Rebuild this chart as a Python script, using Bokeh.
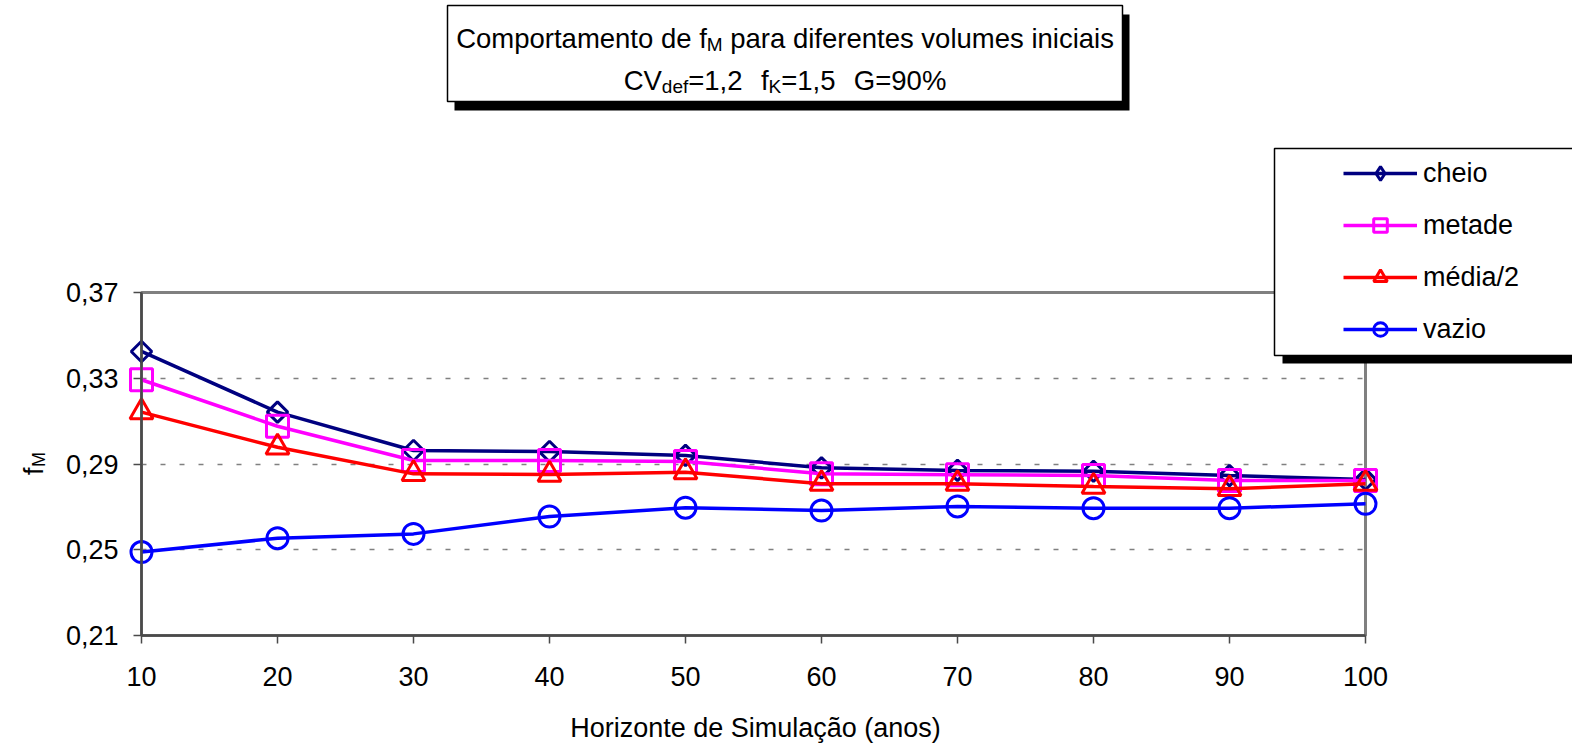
import numpy as np
from bokeh.plotting import figure
from bokeh.models import (Range1d, FixedTicker, CustomJSTickFormatter, Label,
                          BoxAnnotation, Legend, LegendItem)
from bokeh.embed import file_html
from bokeh.resources import INLINE

# ---------------- data ----------------
years = [10, 20, 30, 40, 50, 60, 70, 80, 90, 100]
cheio = [0.3425, 0.3142, 0.2963, 0.2958, 0.2940, 0.2882, 0.2870, 0.2866, 0.2846, 0.2828]
metade = [0.3293, 0.3076, 0.2916, 0.2916, 0.2912, 0.2854, 0.2850, 0.2846, 0.2823, 0.2823]
media2 = [0.3142, 0.2978, 0.2854, 0.2851, 0.2862, 0.2808, 0.2808, 0.2795, 0.2784, 0.2808]
vazio = [0.2489, 0.2554, 0.2574, 0.2655, 0.2696, 0.2683, 0.2702, 0.2694, 0.2694, 0.2714]
series_labels = ["cheio", "metade", "média/2", "vazio"]
y_ticks = [0.21, 0.25, 0.29, 0.33, 0.37]
grid_ticks = [0.25, 0.29, 0.33]
x_min, x_max = 10, 100
y_min, y_max = 0.21, 0.37
x_axis_label = "Horizonte de Simulação (anos)"
title_line1 = [("Comportamento de f", False, 0), ("M", True, 0),
               ("para diferentes volumes iniciais", False, 1)]
title_line2 = [("CV", False, 0), ("def", True, 0), ("=1,2", False, 0),
               ("f", False, 2.4), ("K", True, 0), ("=1,5", False, 0),
               ("G=90%", False, 2.4)]

# ---------------- layout constants (canvas px, canvas = page) ----------------
FONT = "Liberation Sans"
W, H = 1572, 743
PX0, PX1, PY0, PY1 = 141, 1365, 292, 635      # visible plot box on the canvas

sx_per = (PX1 - PX0) / (x_max - x_min)
sy_per = (PY1 - PY0) / (y_max - y_min)
# the bokeh frame covers the whole canvas; the axes sit at fixed locations
x_range = Range1d(x_min - PX0 / sx_per, x_max + (W - PX1) / sx_per)
y_range = Range1d(y_min - (H - PY1) / sy_per, y_max + PY0 / sy_per)

p = figure(width=W, height=H, output_backend="svg", toolbar_location=None,
           title=None, x_range=x_range, y_range=y_range,
           min_border=0, min_border_left=0, min_border_right=0,
           min_border_top=0, min_border_bottom=0)
p.outline_line_color = None
p.background_fill_color = "white"
p.border_fill_color = "white"

AXC = "#4a4a4a"
for ax in (p.xaxis[0], p.yaxis[0]):
    ax.axis_line_color = AXC
    ax.axis_line_width = 2.5
    ax.major_tick_line_color = AXC
    ax.major_tick_line_width = 1.5
    ax.major_tick_out = 8
    ax.major_tick_in = 0
    ax.minor_tick_line_color = None
    ax.major_label_text_font = FONT
    ax.major_label_text_font_size = "27px"
    ax.major_label_text_color = "black"

p.xaxis.ticker = FixedTicker(ticks=years)
p.xaxis.bounds = (x_min, x_max)
p.xaxis.fixed_location = y_min
p.xaxis.major_label_standoff = 23

p.yaxis.ticker = FixedTicker(ticks=y_ticks)
p.yaxis.bounds = (y_min, y_max)
p.yaxis.fixed_location = x_min
p.yaxis.major_label_standoff = 15
p.yaxis.formatter = CustomJSTickFormatter(code="return tick.toFixed(2).replace('.', ',');")

p.xgrid.visible = False
GRID_KW = dict(line_color="#808080", line_width=1.5, line_dash="5 14")
grid = p.ygrid[0]
if "cross_bounds" in grid.properties():
    grid.ticker = FixedTicker(ticks=grid_ticks)
    grid.cross_bounds = (x_min, x_max)
    grid.grid_line_color = GRID_KW["line_color"]
    grid.grid_line_width = GRID_KW["line_width"]
    grid.grid_line_dash = GRID_KW["line_dash"]
else:
    grid.visible = False
    for gt in grid_ticks:
        p.add_layout(BoxAnnotation(left=x_min, right=x_max, top=gt, bottom=gt,
                                   fill_color=None, line_alpha=1, level="underlay",
                                   **GRID_KW))

# plot box border (gray)
p.add_layout(BoxAnnotation(left=x_min, right=x_max, top=y_max, bottom=y_min,
                           fill_color=None, line_color="#808080", line_alpha=1,
                           line_width=3, line_dash="solid", level="underlay"))

# ---------------- series ----------------
specs = [
    (cheio, "#000080", "square", np.pi / 4, 14.5),
    (metade, "#FF00FF", "square", 0, 22),
    (media2, "#FF0000", "triangle", 0, 23),
    (vazio, "#0000FF", "circle", 0, 21),
]
items = []
for (vals, col, mk, ang, sz), name in zip(specs, series_labels):
    rl = p.line(years, vals, line_color=col, line_width=3.5)
    rm = p.scatter(years, vals, marker=mk, angle=ang, size=sz, line_color=col,
                   line_width=3, fill_alpha=0)
    rends = [rl, rm]
    if ang != 0:
        # legend key: an upright diamond (the legend ignores marker angles)
        rk = p.scatter(years, vals, marker="diamond", size=sz, line_color=col,
                       line_width=3, fill_alpha=0, visible=False)
        rends = [rl, rk]
    items.append(LegendItem(label=name, renderers=rends))


def fx(cx):
    return cx


def fy(cy):
    return H - cy


AW = {' ': 278, '%': 889, ',': 278, '0': 556, '1': 556, '2': 556, '5': 556, '9': 556,
      '=': 584, 'C': 722, 'G': 778, 'K': 667, 'M': 833, 'V': 667, 'a': 556, 'c': 500,
      'd': 556, 'e': 556, 'f': 278, 'i': 222, 'l': 222, 'm': 833, 'n': 556, 'o': 556,
      'p': 556, 'r': 333, 's': 500, 't': 278, 'u': 556, 'v': 500}


def tw(s, size):
    return sum(AW.get(c, 556) for c in s) / 1000.0 * size


def label(x, y, text, size, **kw):
    p.add_layout(Label(x=x, y=y, x_units="screen", y_units="screen", text=text,
                       text_font=FONT, text_font_size=f"{size}px", text_color="black",
                       text_align=kw.get("align", "left"),
                       text_baseline=kw.get("baseline", "alphabetic"),
                       angle=kw.get("angle", 0)))


def place_line(pieces, cx, base_cy, F, S, drop):
    total = 0
    for t, sub, gap in pieces:
        total += gap * tw(" ", F) + tw(t, S if sub else F)
    x = cx - total / 2
    for t, sub, gap in pieces:
        x += gap * tw(" ", F)
        size = S if sub else F
        label(fx(x), fy(base_cy + (drop if sub else 0)), t, size)
        x += tw(t, size)


def box(l, r, t, b, fill, line):
    p.add_layout(BoxAnnotation(left=fx(l), right=fx(r), top=fy(t), bottom=fy(b),
                               left_units="screen", right_units="screen",
                               top_units="screen", bottom_units="screen",
                               fill_color=fill, fill_alpha=1,
                               line_color=line, line_alpha=1, line_width=1.5,
                               line_dash="solid"))


# ---------------- title box ----------------
TB = dict(l=447, r=1122, t=5, b=101)
box(TB["l"] + 7, TB["r"] + 7, TB["t"] + 9, TB["b"] + 9, "black", None)
box(TB["l"], TB["r"], TB["t"], TB["b"], "white", "black")
tcx = (TB["l"] + TB["r"]) / 2
place_line(title_line1, tcx, 38.3, 27.5, 19, 5.5)
place_line(title_line2, tcx, 80, 27.5, 19, 5.5)

# ---------------- legend box ----------------
LB = dict(l=1274, r=1580, t=148, b=355)
SH = 8
box(LB["l"] + SH, LB["r"] + SH, LB["t"] + SH, LB["b"] + SH, "black", None)
box(LB["l"], LB["r"], LB["t"], LB["b"], "white", "black")
GH, SP = 34, 18
leg_top = 173 - GH / 2
leg_bottom = leg_top + 4 * GH + 3 * SP
legend = Legend(items=items, location=(fx(1343), fy(leg_bottom)),
                orientation="vertical", glyph_width=74, glyph_height=GH,
                label_height=GH, spacing=SP, label_standoff=6, padding=0, margin=0,
                label_text_font=FONT, label_text_font_size="27px",
                label_text_color="black", border_line_color=None,
                background_fill_alpha=0)
p.add_layout(legend)

# ---------------- axis labels ----------------
ylab_start = 474.5
label(fx(33), fy(ylab_start), "f", 27, angle=np.pi / 2)
label(fx(38), fy(ylab_start) + tw("f", 27) + 0.5, "M", 18, angle=np.pi / 2)
label(fx(755), fy(727), x_axis_label, 27, align="center")

open("out.html", "w").write(file_html(p, INLINE))
